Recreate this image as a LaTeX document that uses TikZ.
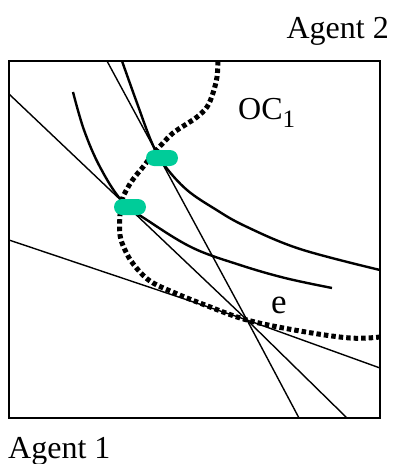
\documentclass[tikz,border=0pt]{standalone}
\usepackage{fontspec}
\setmainfont{Liberation Serif}
\definecolor{pill}{RGB}{0,204,153}
\begin{document}
\begin{tikzpicture}[x=1pt,y=-1pt,
  boxline/.style={line width=1.8pt},
  straight/.style={line width=1.4pt},
  icurve/.style={line width=2.4pt},
  offer/.style={line width=5pt,dash pattern=on 4.5pt off 3pt},
  pillshape/.style={fill=pill,draw=none,rounded corners=8pt,minimum width=32pt,minimum height=16pt,inner sep=0pt},
  lbl/.style={font=\fontsize{32}{38}\selectfont,inner sep=0pt}]
\useasboundingbox (0,0) rectangle (392,464);
% box
\coordinate (bl) at (9,418);
\coordinate (tr) at (380,61);
% equilibrium
\coordinate (e) at (247,320);
% straight lines
\coordinate (l1a) at (9,240);   \coordinate (l1b) at (380,368);
\coordinate (l2a) at (9,94);    \coordinate (l2b) at (347,418);
\coordinate (l3a) at (107,61);  \coordinate (l3b) at (299,418);
\draw[straight] (l1a) -- (e) -- (l1b);
\draw[straight] (l2a) -- (e) -- (l2b);
\draw[straight] (l3a) -- (e) -- (l3b);
% indifference curves
\draw[icurve] plot[smooth,tension=0.6] coordinates {(122,61) (137,103) (152,143) (165,166) (187,190) (215,209) (245,226) (300,249) (380,270)};
\draw[icurve] plot[smooth,tension=0.6] coordinates {(73,92) (84,130) (100,167) (122,201) (150,222) (193,248) (240,265) (285,278) (332,288)};
% offer curve
\draw[offer] plot[smooth,tension=0.6] coordinates {(218,61) (217,77) (213,93) (207,107) (197,117) (185,125) (173,133) (163,143) (153,154) (143,167) (134,178) (127,189) (122,200) (120,215) (120,235) (125,250) (134,265) (150,281) (175,293) (205,305) (247,320) (300,331) (350,338) (380,337)};
\draw[boxline] (bl) rectangle (tr);
% tangency markers
\node[pillshape] (p1) at (162,158) {};
\node[pillshape] (p2) at (130,207) {};
% labels
\node[lbl,anchor=base east] (ag2) at (389,38) {Agent 2};
\node[lbl,anchor=base west] (ag1) at (8,458) {Agent 1};
\node[lbl,anchor=base west] (oc) at (238,119) {OC\raisebox{-8pt}{\fontsize{25}{28}\selectfont 1}};
\node[lbl,anchor=base west,font=\fontsize{35}{40}\selectfont] (elab) at (271,313) {e};
\end{tikzpicture}
\end{document}
